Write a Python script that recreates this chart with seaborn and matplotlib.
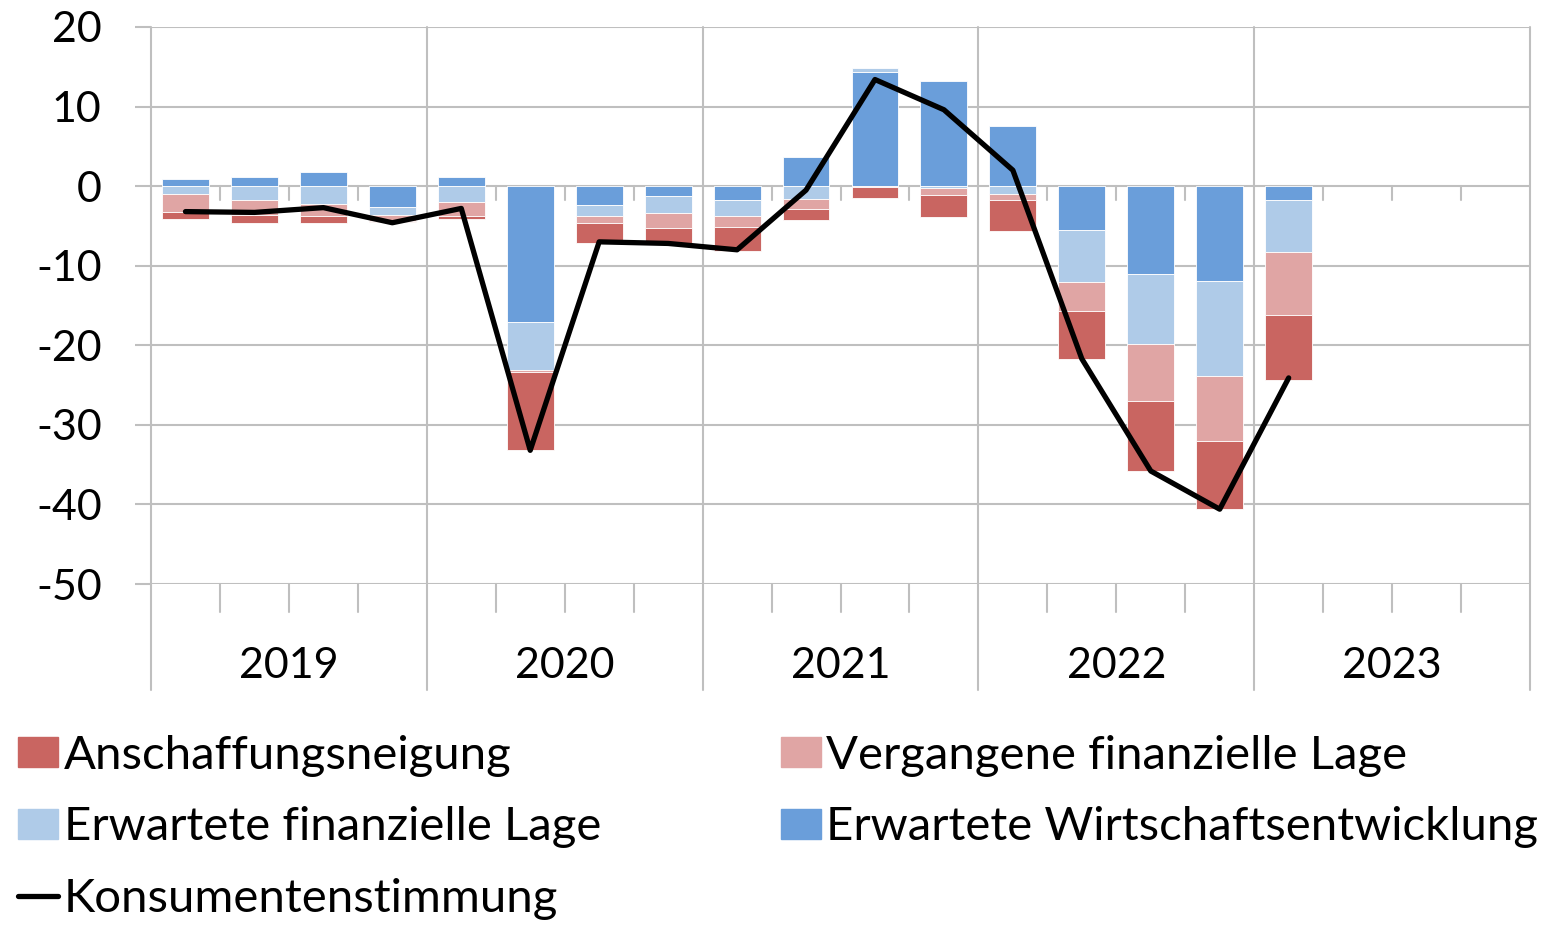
import numpy as np
import pandas as pd
import matplotlib
matplotlib.use("Agg")
import matplotlib.pyplot as plt
import seaborn as sns
from matplotlib.patches import Patch
from matplotlib.lines import Line2D

# Daten (Quartale 2019Q1 - 2023Q1), Beiträge zur Konsumentenstimmung
jahre = ["2019", "2020", "2021", "2022", "2023"]
quartale = [f"{j}Q{q}" for j in jahre for q in range(1, 5)]
beobachtet = quartale[:17]

wirtschaft = [0.9, 1.1, 1.8, -2.6, 1.1, -17.1, -2.4, -1.3, -1.8, 3.6, 14.4, 13.2, 7.6, -5.5, -11.1, -11.9, -1.8]
fin_erwartet = [-1.0, -1.7, -2.3, -1.0, -2.0, -6.0, -1.3, -2.1, -1.9, -1.6, 0.4, -0.2, -1.0, -6.5, -8.8, -12.0, -6.5]
fin_vergangen = [-2.2, -1.9, -1.4, -0.8, -1.8, -0.2, -0.9, -1.8, -1.4, -1.3, -0.1, -0.9, -0.8, -3.7, -7.1, -8.1, -7.9]
anschaffung = [-0.9, -1.0, -0.9, -0.1, -0.3, -9.9, -2.5, -1.9, -3.0, -1.4, -1.4, -2.8, -3.9, -6.0, -8.8, -8.6, -8.2]
stimmung = [-3.2, -3.3, -2.7, -4.6, -2.8, -33.2, -7.0, -7.2, -8.0, -0.5, 13.4, 9.6, 2.0, -21.7, -35.8, -40.6, -24.1]

namen = ["Erwartete Wirtschaftsentwicklung", "Erwartete finanzielle Lage",
         "Vergangene finanzielle Lage", "Anschaffungsneigung"]
farben = ["#6A9EDA", "#AFCBE8", "#E0A5A4", "#C96561"]
werte = [wirtschaft, fin_erwartet, fin_vergangen, anschaffung]

sns.set_theme(style="white")
plt.rcParams["font.family"] = ["Lato", "DejaVu Sans"]
plt.rcParams["text.color"] = "black"
grau = "#BFBFBF"

fig = plt.figure(figsize=(15.45, 9.26), dpi=100)
ax = fig.add_axes([151 / 1545, 1 - 584 / 926, (1530 - 151) / 1545, (584 - 27) / 926])

# gestapelte Balken: positive und negative Werte getrennt stapeln
pos_basis = np.zeros(len(beobachtet))
neg_basis = np.zeros(len(beobachtet))
for name, farbe, w in zip(namen, farben, werte):
    w = np.array(w)
    basis = np.where(w >= 0, pos_basis, neg_basis)
    df = pd.DataFrame({"Quartal": beobachtet, "Wert": w})
    sns.barplot(data=df, x="Quartal", y="Wert", order=quartale, color=farbe,
                bottom=basis, width=0.68, errorbar=None, saturation=1,
                edgecolor="white", linewidth=0.6, ax=ax, zorder=2)
    pos_basis = pos_basis + np.clip(w, 0, None)
    neg_basis = neg_basis + np.clip(w, None, 0)

sns.lineplot(x=np.arange(len(beobachtet)), y=stimmung, color="black",
             linewidth=3.8, ax=ax, zorder=4)

ax.set_xlim(-0.5, 19.5)
ax.set_ylim(-50, 20)
ax.set_yticks(range(-50, 21, 10))
ax.set_yticklabels([str(v) for v in range(-50, 21, 10)])
ax.set_xticks([])
ax.set_xlabel("")
ax.set_ylabel("")
for s in ax.spines.values():
    s.set_visible(False)
ax.yaxis.grid(True, color=grau, linewidth=1.5, zorder=0)
ax.tick_params(axis="y", left=True, length=11.5, width=1.5, color=grau,
               pad=24, labelsize=31, labelcolor="black")

trans = ax.get_xaxis_transform()
# Jahrestrennlinien bis unter die Achse
for xb in np.arange(-0.5, 20, 4):
    ax.plot([xb, xb], [-0.19, 1], color=grau, linewidth=1.5, transform=trans,
            clip_on=False, zorder=1)
# Quartalsstriche an der Nulllinie und unten
for xb in np.arange(0.5, 19.5, 1):
    if (xb + 0.5) % 4 == 0:
        continue
    ax.plot([xb, xb], [0, -1.8], color=grau, linewidth=1.5, zorder=1)
    ax.plot([xb, xb], [0, -0.05], color=grau, linewidth=1.5, transform=trans,
            clip_on=False, zorder=1)
for i, j in enumerate(jahre):
    ax.text(i * 4 + 1.5, -0.147, j, transform=trans, ha="center", va="center",
            fontsize=31, color="black")

handles = [Patch(color=farben[3]), Patch(color=farben[1]),
           Line2D([], [], color="black", linewidth=3.8),
           Patch(color=farben[2]), Patch(color=farben[0])]
labels = ["Anschaffungsneigung", "Erwartete finanzielle Lage", "Konsumentenstimmung",
          "Vergangene finanzielle Lage", "Erwartete Wirtschaftsentwicklung"]
fig.legend(handles, labels, loc="upper left", bbox_to_anchor=(18 / 1545, 1 - 735 / 926),
           ncol=2, frameon=False, fontsize=34, handlelength=0.85, handleheight=0.6,
           handletextpad=0.12, columnspacing=3.8, labelspacing=0.62,
           borderpad=0, borderaxespad=0, labelcolor="black")

fig.savefig("out.png", dpi=100)
